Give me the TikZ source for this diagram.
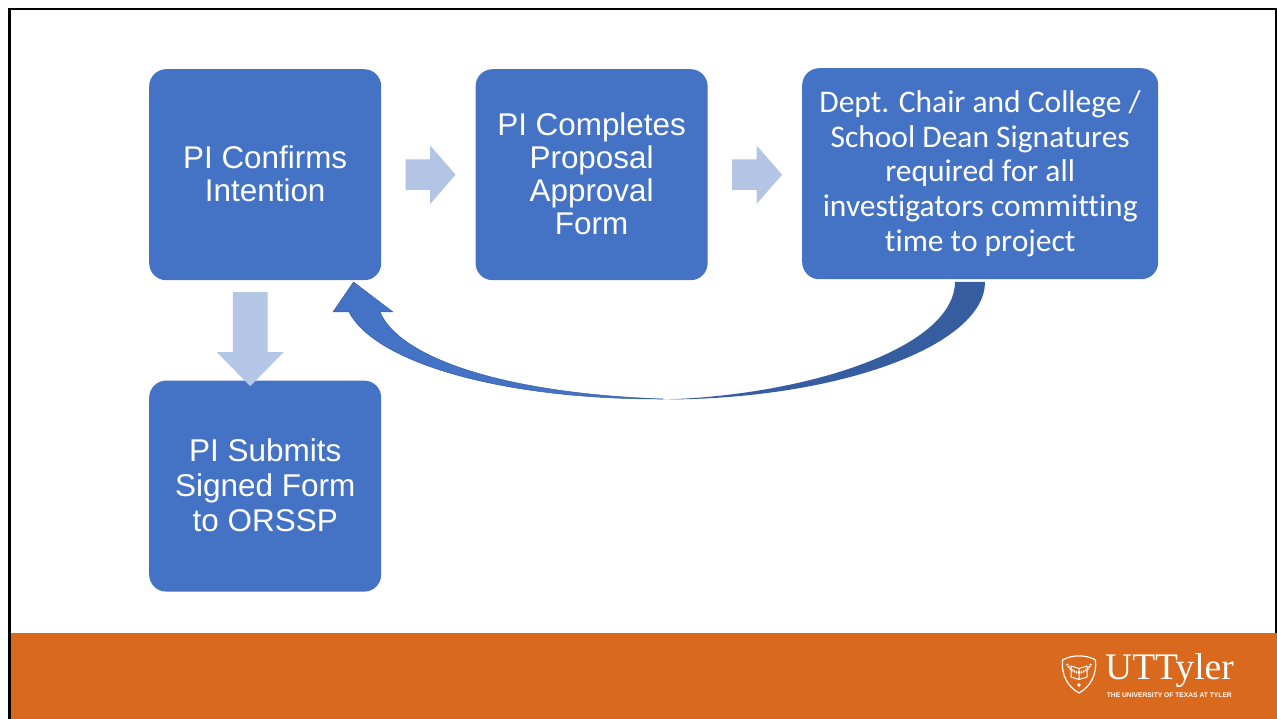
\documentclass[tikz,border=0pt]{standalone}
\usepackage{fontspec}
\setmainfont{Liberation Sans}
\newfontfamily\carlitofont[Ligatures=NoCommon]{Carlito}
\newfontfamily\serifont{Liberation Serif}
\usepackage{xcolor}
\usetikzlibrary{positioning, shapes.arrows}
\definecolor{boxblue}{HTML}{4472C4}
\definecolor{darkblue}{HTML}{355D9F}
\definecolor{bandorange}{HTML}{D8691D}
\definecolor{pale}{HTML}{B4C4E4}
\definecolor{paler}{HTML}{B4C7E7}
\begin{document}
\begin{tikzpicture}[
        x=1pt, y=-1pt,
        node distance=94pt and 94pt,
        box/.style={fill=boxblue, rounded corners=17pt, minimum height=211pt, minimum width=232pt, align=center, text=white, inner sep=0pt, font=\fontsize{31.4}{33}\selectfont, execute at end node={\rule[-2pt]{0pt}{0pt}}},
        blockarrow/.style={single arrow, fill=pale, inner sep=0pt, text height=30pt, text depth=0pt, text width=0pt, minimum height=50pt, single arrow head extend=14pt, single arrow tip angle=98, single arrow head indent=0pt}
        ]
        \useasboundingbox (0,0) rectangle (1277,719);

        % Frame and band
        \draw[line width=2.8pt] (9.7,9) rectangle (1276.5,719);
        \fill[bandorange] (11,633) rectangle (1277,719);

        % Nodes
        \node[box, anchor=north west] (confirm) at (149,69) {PI Confirms\\Intention};
        \node[box, right=of confirm] (complete) {PI Completes\\Proposal\\Approval\\Form};
        \node[box, anchor=north west, minimum width=356pt, font=\carlitofont\fontsize{31.5}{34.7}\selectfont, execute at begin node={\rule{0pt}{27pt}}] (signatures) at (802,68) {Dept. Chair and College /\\School Dean Signatures\\required for all\\investigators committing\\time to project};
        \node[box, below=100pt of confirm, font=\fontsize{31.5}{35}\selectfont] (submit) {PI Submits\\Signed Form\\to ORSSP};

        % Arrows
        \node[blockarrow, right=24pt of confirm] (arrowa) {};
        \node[blockarrow, right=24pt of complete] (arrowb) {};
        \node[blockarrow, shape border rotate=270, fill=paler, text height=0pt, text width=34.5pt, minimum height=94pt, single arrow head extend=16pt, single arrow tip angle=89, anchor=center] (arrowc) at (250.2,330.3) {};

        % Curved arrow
        \fill[darkblue] (955,282) -- (985,282) .. controls (985,345) and (840,399.5) .. (663,399.5)
            .. controls (800,396) and (954,350) .. (955,282) -- cycle;
        \filldraw[fill=boxblue, draw=darkblue, line width=0.5pt] (353.5,282) -- (393,312) -- (380,312)
            .. controls (398,355) and (495,393) .. (663,399)
            .. controls (500,399.5) and (375,362) .. (349,312) -- (333,312) -- cycle;

        % Logo
        \node[inner sep=0pt, text=white, anchor=west, font=\serifont\fontsize{37.5}{37.5}\selectfont] (uttyler) at (1105,671) {UTTyler};
        \node[inner sep=0pt, text=white, anchor=east, font=\bfseries\fontsize{6.7}{7}\selectfont] (university) at (1232,695.5) {THE UNIVERSITY OF TEXAS AT TYLER};
        \draw[white, line width=1.2pt, line join=round] (1062.5,660) .. controls (1072,654.5) and (1086,654.5) .. (1095.5,660)
            .. controls (1097,675) and (1090,687) .. (1079,693) .. controls (1068,687) and (1061,675) .. (1062.5,660) -- cycle;
        \draw[white, line width=2pt, dash pattern=on 1.5pt off 1pt] (1067,664) arc[start angle=200, end angle=280, radius=13pt];
        \draw[white, line width=2pt, dash pattern=on 1.5pt off 1pt] (1091,664) arc[start angle=-20, end angle=-100, radius=13pt];
        \fill[white] (1079,685) circle (1.8pt);
        \draw[white, line width=1pt, line join=round] (1071,666) -- (1079,668.5) -- (1087,666) -- (1087,677) -- (1079,679.5) -- (1071,677) -- cycle (1079,668.5) -- (1079,679.5);
        \end{tikzpicture}
\end{document}
